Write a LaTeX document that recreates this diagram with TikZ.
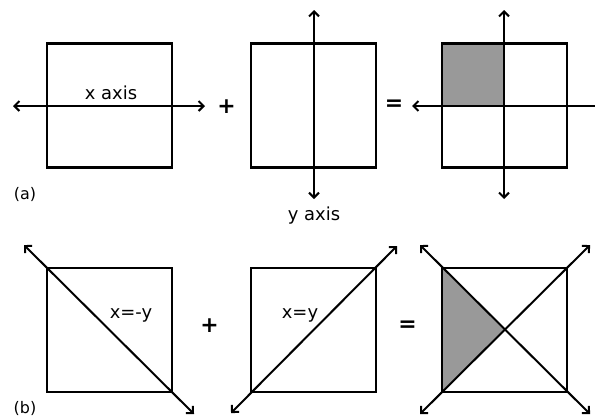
\documentclass[tikz,border=0pt]{standalone}
\usepackage{fontspec}
\setmainfont{DejaVu Sans}
\usetikzlibrary{arrows.meta}
\definecolor{quadgray}{HTML}{999999}
\tikzset{
  sq/.style={draw, line width=2.2bp, minimum width=125bp, minimum height=124bp, inner sep=0pt, outer sep=0pt},
  ax/.style={line width=2bp, {Straight Barb[length=5bp,width=10bp]}-{Straight Barb[length=5bp,width=10bp]}},
  lbl/.style={font=\fontsize{18}{20}\selectfont, anchor=base, inner sep=0pt},
  tag/.style={font=\fontsize{16}{18}\selectfont, anchor=base, inner sep=0pt},
  op/.style={font=\fontsize{22}{24}\selectfont\bfseries, inner sep=0pt}
}
\begin{document}
\begin{tikzpicture}[x=1bp,y=-1bp]
\useasboundingbox (0,0) rectangle (595,419);
% ---------- row (a) ----------
\fill[quadgray] (442,43.5) rectangle (504,106);
\node[sq] (A1) at (109.5,105.5) {};
\node[sq] (A2) at (313.5,105.5) {};
\node[sq] (A3) at (504.5,105.5) {};
\coordinate (a1l) at (13,106);
\coordinate (a1r) at (205,106);
\draw[ax] (a1l) -- (a1r);
\coordinate (a2t) at (314,10);
\coordinate (a2b) at (314,199);
\draw[ax] (a2t) -- (a2b);
\coordinate (a3t) at (504,10);
\coordinate (a3b) at (504,199);
\draw[ax] (a3t) -- (a3b);
\coordinate (a3l) at (412,106);
\coordinate (a3r) at (607,106);
\draw[ax] (a3l) -- (a3r);
\node[lbl] (xax) at (111,99.5) {x axis};
\node[lbl] (yax) at (314,220) {y axis};
\node[op] (plusA) at (226.5,106.5) {+};
\node[op] (eqA) at (394,105.5) {=};
\node[tag] (ta) at (25,199.5) {(a)};
% ---------- row (b) ----------
\fill[quadgray] (442,268) -- (504.5,330) -- (442,392) -- cycle;
\node[sq] (B1) at (109.5,330) {};
\node[sq] (B2) at (313.5,330) {};
\node[sq] (B3) at (504.5,330) {};
\coordinate (b1a) at (24,245);
\coordinate (b1b) at (194,414);
\draw[ax] (b1a) -- (b1b);
\coordinate (b2a) at (231,413);
\coordinate (b2b) at (397,246);
\draw[ax] (b2a) -- (b2b);
\coordinate (b3a) at (420,245);
\coordinate (b3b) at (590,414);
\draw[ax] (b3a) -- (b3b);
\coordinate (b3c) at (420,414);
\coordinate (b3d) at (590,245);
\draw[ax] (b3c) -- (b3d);
\node[lbl] (xmy) at (131,318) {x=-y};
\node[lbl] (xy) at (300,318) {x=y};
\node[op] (plusB) at (209.5,326) {+};
\node[op] (eqB) at (407.5,326.5) {=};
\node[tag] (tb) at (25,413) {(b)};
\end{tikzpicture}
\end{document}
